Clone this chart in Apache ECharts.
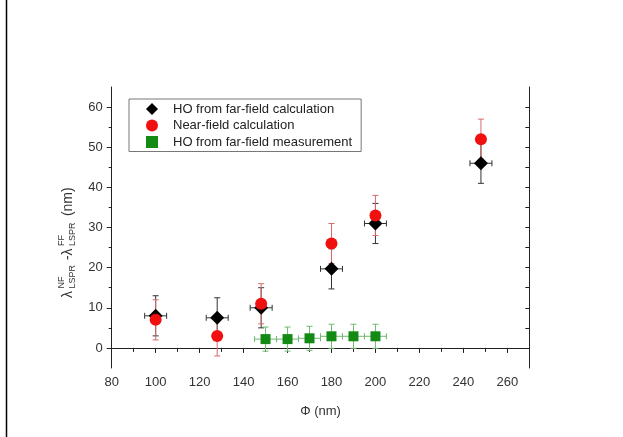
<!DOCTYPE html>
<html>
<head>
<meta charset="utf-8">
<script src="https://cdn.jsdelivr.net/npm/echarts@6/dist/echarts.min.js"></script>
<style>html,body{margin:0;padding:0;background:#fff}#c{width:623px;height:437px}</style>
</head>
<body>
<div id="c"></div>
<script>
// ---- data ----
const xCalc = [100, 128, 148, 180, 200, 248];
const yCalc = [8, 7.5, 10, 19.7, 31, 46];
const yCalcErr = [5, 5, 5, 5, 5, 5];
const xCalcErr = [5, 5, 5, 5, 5, 5];

const xNear = [100, 128, 148, 180, 200, 248];
const yNear = [7, 3, 11, 26, 33, 52];
const yNearErr = [5, 5, 5, 5, 5, 5];
const xNearErr = [0, 0, 0, 0, 0, 0];

const xMeas = [150, 160, 170, 180, 190, 200];
const yMeas = [2.2, 2.2, 2.4, 2.9, 2.9, 2.9];
const yMeasErr = [3, 3, 3, 3, 3, 3];
const xMeasErr = [5, 5, 5, 5, 5, 5];

const xTicks = [80, 100, 120, 140, 160, 180, 200, 220, 240, 260];
const xMinorTicks = [90, 110, 130, 150, 170, 190, 210, 230, 250];
const xTopTicks = [90, 100, 110, 120, 130, 140, 150, 160, 170, 180, 190, 200, 210, 220, 230, 240, 250, 260];
const yTicks = [0, 10, 20, 30, 40, 50, 60];
const yMinorTicks = [5, 15, 25, 35, 45, 55];
const yRightTicks = [0, 5, 10, 15, 20, 25, 30, 35, 40, 45, 50, 55, 60];

const names = ['HO from far-field calculation', 'Near-field calculation', 'HO from far-field measurement'];

// ---- build ----
const pts = (xs, ys) => xs.map((x, i) => [x, ys[i]]);
const errData = (xs, ys, ey, ex) => xs.map((x, i) => [x, ys[i], ey[i], ex[i]]);

function errRender(color) {
  return function (params, api) {
    const x = api.value(0), y = api.value(1), ey = api.value(2), ex = api.value(3);
    const c = api.coord([x, y]);
    const t = api.coord([x, y + ey]);
    const b = api.coord([x, y - ey]);
    const st = { stroke: color, lineWidth: 1 };
    const cap = 3;
    const ch = [
      { type: 'line', shape: { x1: c[0], y1: t[1], x2: c[0], y2: b[1] }, style: st },
      { type: 'line', shape: { x1: c[0] - cap, y1: t[1], x2: c[0] + cap, y2: t[1] }, style: st },
      { type: 'line', shape: { x1: c[0] - cap, y1: b[1], x2: c[0] + cap, y2: b[1] }, style: st }
    ];
    if (ex > 0) {
      const l = api.coord([x - ex, y]);
      const r = api.coord([x + ex, y]);
      ch.push({ type: 'line', shape: { x1: l[0], y1: c[1], x2: r[0], y2: c[1] }, style: st });
      ch.push({ type: 'line', shape: { x1: l[0], y1: c[1] - cap, x2: l[0], y2: c[1] + cap }, style: st });
      ch.push({ type: 'line', shape: { x1: r[0], y1: c[1] - cap, x2: r[0], y2: c[1] + cap }, style: st });
    }
    return { type: 'group', children: ch };
  };
}

const FONT = "'Liberation Sans', Arial, sans-serif";
const axisColor = '#222';
const chart = echarts.init(document.getElementById('c'), null, { renderer: 'canvas' });

const baseX = { type: 'value', min: 80, max: 270, gridIndex: 0, splitLine: { show: false } };
const baseY = { type: 'value', min: -5, max: 65, gridIndex: 0, splitLine: { show: false } };

const lab = (text, x, y, size) => ({ type: 'text', x: x, y: y,
  style: { text: text, font: size + "px " + FONT, fill: '#333', verticalAlign: 'middle', align: 'left' } });

chart.setOption({
  animation: false,
  backgroundColor: '#ffffff',
  textStyle: { fontFamily: FONT },
  grid: { left: 111.7, right: 93.7, top: 87, bottom: 69, containLabel: false },
  legend: {
    data: names,
    orient: 'vertical',
    left: 129, top: 99,
    padding: [3.5, 9, 3, 17],
    itemGap: 3.5,
    itemWidth: 12, itemHeight: 12,
    borderColor: '#777', borderWidth: 1,
    textStyle: { fontSize: 13, color: '#222', fontFamily: FONT, lineHeight: 13, padding: [0, 0, 0, 10] }
  },
  xAxis: [
    Object.assign({}, baseX, {
      position: 'bottom',
      axisLine: { show: true, lineStyle: { color: axisColor, width: 1 } },
      axisTick: { show: true, inside: false, length: 5, customValues: xTicks, lineStyle: { color: axisColor } },
      axisLabel: { show: true, customValues: xTicks, margin: 8, fontSize: 13, color: '#333', fontFamily: FONT },
      name: 'Φ (nm)', nameLocation: 'middle', nameGap: 37,
      nameTextStyle: { fontSize: 13, color: '#333', fontFamily: FONT }
    }),
    Object.assign({}, baseX, {
      position: 'bottom',
      axisLine: { show: false },
      axisTick: { show: true, inside: false, length: 3, customValues: xMinorTicks, lineStyle: { color: axisColor } },
      axisLabel: { show: false }
    }),
    Object.assign({}, baseX, {
      position: 'top',
      axisLine: { show: true, lineStyle: { color: axisColor, width: 1 } },
      axisTick: { show: true, inside: true, length: 4, customValues: xTopTicks, lineStyle: { color: axisColor } },
      axisLabel: { show: false }
    })
  ],
  yAxis: [
    Object.assign({}, baseY, {
      position: 'left',
      axisLine: { show: true, lineStyle: { color: axisColor, width: 1 } },
      axisTick: { show: true, inside: false, length: 5, customValues: yTicks, lineStyle: { color: axisColor } },
      axisLabel: { show: true, customValues: yTicks, margin: 9, fontSize: 13, color: '#333', fontFamily: FONT }
    }),
    Object.assign({}, baseY, {
      position: 'left',
      axisLine: { show: false },
      axisTick: { show: true, inside: false, length: 3, customValues: yMinorTicks, lineStyle: { color: axisColor } },
      axisLabel: { show: false }
    }),
    Object.assign({}, baseY, {
      position: 'right',
      axisLine: { show: true, lineStyle: { color: axisColor, width: 1 } },
      axisTick: { show: true, inside: true, length: 4, customValues: yRightTicks, lineStyle: { color: axisColor } },
      axisLabel: { show: false }
    })
  ],
  graphic: {
    elements: [
      { type: 'line', shape: { x1: 6.5, y1: 0, x2: 6.5, y2: 437 }, style: { stroke: '#000', lineWidth: 1.5 }, z: 100, silent: true },
      {
        type: 'group', x: 68, y: 298, rotation: Math.PI / 2, silent: true,
        children: [
          lab('λ', 0, 0, 14),
          lab('NF', 9.5, -6, 9),
          lab('LSPR', 9.5, 4.5, 9),
          lab(' -λ', 34, 0, 14),
          lab('FF', 52, -6, 9),
          lab('LSPR', 52, 4.5, 9),
          lab(' (nm)', 78, 0, 14)
        ]
      }
    ]
  },
  series: [
    { type: 'custom', name: 'errCalc', xAxisIndex: 0, yAxisIndex: 0, z: 1, silent: true,
      renderItem: errRender('#333'), data: errData(xCalc, yCalc, yCalcErr, xCalcErr) },
    { type: 'custom', name: 'errNear', xAxisIndex: 0, yAxisIndex: 0, z: 1, silent: true,
      renderItem: errRender('#d86a6a'), data: errData(xNear, yNear, yNearErr, xNearErr) },
    { type: 'custom', name: 'errMeas', xAxisIndex: 0, yAxisIndex: 0, z: 1, silent: true,
      renderItem: errRender('#72b872'), data: errData(xMeas, yMeas, yMeasErr, xMeasErr) },
    { type: 'scatter', name: names[0], xAxisIndex: 0, yAxisIndex: 0, z: 3,
      symbol: 'diamond', symbolSize: 14, itemStyle: { color: '#000', opacity: 1 }, data: pts(xCalc, yCalc) },
    { type: 'scatter', name: names[1], xAxisIndex: 0, yAxisIndex: 0, z: 3,
      symbol: 'circle', symbolSize: 12, itemStyle: { color: '#f01010', opacity: 1 }, data: pts(xNear, yNear) },
    { type: 'scatter', name: names[2], xAxisIndex: 0, yAxisIndex: 0, z: 3,
      symbol: 'rect', symbolSize: 10, itemStyle: { color: '#138a13', opacity: 1 }, data: pts(xMeas, yMeas) }
  ]
});
</script>
</body>
</html>
